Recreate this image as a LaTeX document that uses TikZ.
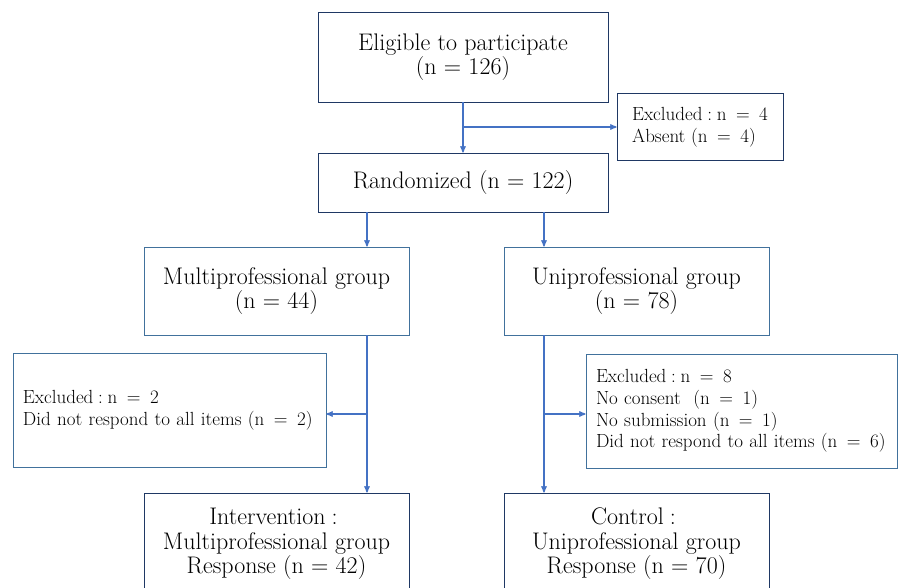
\documentclass[tikz,border=0pt]{standalone}
\usepackage{xcolor}
\usepackage{tikz}
\usetikzlibrary{arrows}
\usetikzlibrary{calc}
\usetikzlibrary{positioning}

\definecolor{navy}{HTML}{1F3864}
\definecolor{steel}{HTML}{41719C}
\definecolor{arrowblue}{HTML}{4472C4}

\newcommand{\wcolon}{\makebox[0.75em]{:}}
\newcommand{\weq}{\enspace=\enspace}

\begin{document}
\begin{tikzpicture}[x=1pt,y=-1pt,>=stealth',semithick]
  \tikzstyle{box}=[draw=navy, line width=0.8pt, fill=white, text=black, align=center, inner sep=0pt,
                   font=\fontsize{24}{24.5}\selectfont]
  \tikzstyle{lbox}=[box, draw=steel]
  \tikzstyle{smalltext}=[align=left, font=\fontsize{19}{21.8}\selectfont]
  \tikzstyle{exbox}=[lbox, smalltext, text width=#1]
  \tikzstyle{flow}=[->, draw=arrowblue, line width=1.3pt]

  \useasboundingbox (0,0) rectangle (903,587);

  \node[box, minimum width=290pt, minimum height=90pt]  (elig)  at (463,57)    {Eligible to participate\\(n = 126)};
  \node[box, smalltext, minimum width=166pt, minimum height=67pt] (ex1) at (700,127)
       {Excluded\wcolon n\weq 4\\Absent (n\weq 4)};
  \node[box, minimum width=290pt, minimum height=59pt]  (rand)  at (463,182.5) {Randomized (n = 122)};
  \node[lbox, minimum width=265pt, minimum height=88pt] (multi) at (276.5,291) {Multiprofessional group\\(n = 44)};
  \node[lbox, minimum width=265pt, minimum height=88pt] (uni)   at (636.5,291) {Uniprofessional group\\(n = 78)};
  \node[exbox=293pt, minimum width=313pt, minimum height=114pt] (ex2) at (169.5,410)
       {Excluded\wcolon n\weq 2\\Did not respond to all items (n\weq 2)};
  \node[exbox=291pt, minimum width=311pt, minimum height=114pt] (ex3) at (741.5,411)
       {Excluded\wcolon n\weq 8\\No consent~ (n\weq 1)\\No submission (n\weq 1)\\Did not respond to all items (n\weq 6)};
  \node[box, minimum width=265pt, minimum height=102pt] (inter) at (276.5,544)
       {Intervention\wcolon\\Multiprofessional group\\Response (n = 42)};
  \node[box, minimum width=265pt, minimum height=102pt] (ctrl)  at (636.5,544)
       {Control\wcolon\\Uniprofessional group\\Response (n = 70)};

  \coordinate (lx) at (367,0);
  \coordinate (rx) at (544,0);
  \coordinate (split) at (463,127);
  \coordinate (lb) at (367,414);
  \coordinate (rb) at (544,414);

  \draw[flow] (elig.south) -- (rand.north);
  \draw[flow] (split) -- (split -| ex1.west);
  \draw[flow] (rand.south -| lx) -- (multi.north -| lx);
  \draw[flow] (rand.south -| rx) -- (uni.north -| rx);
  \draw[flow] (multi.south -| lx) -- (inter.north -| lx);
  \draw[flow] (uni.south -| rx) -- (ctrl.north -| rx);
  \draw[flow] (lb) -- (lb -| ex2.east);
  \draw[flow] (rb) -- (rb -| ex3.west);
\end{tikzpicture}
\end{document}
